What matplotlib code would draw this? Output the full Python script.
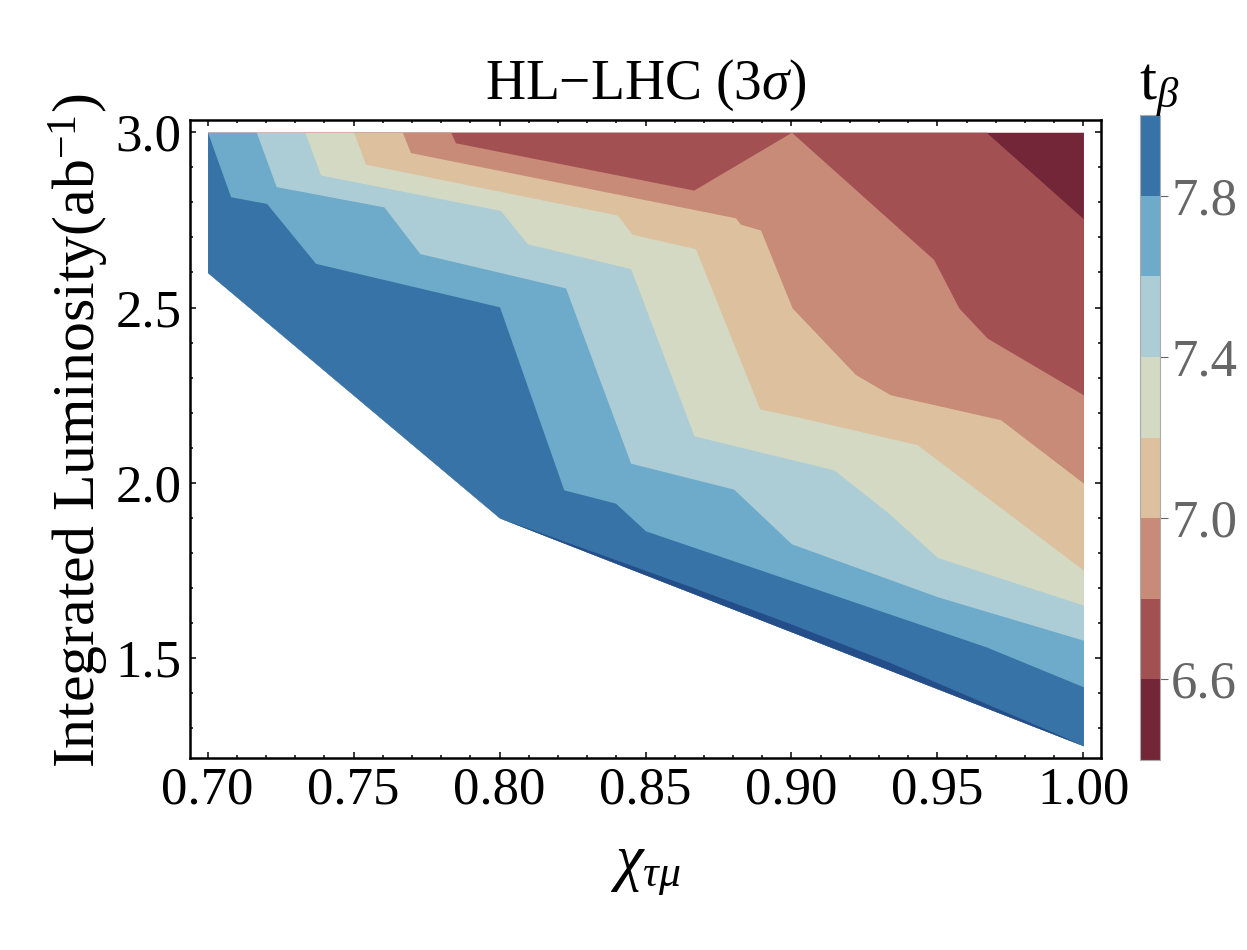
import numpy as np
import matplotlib
matplotlib.use('Agg')
import matplotlib.pyplot as plt
from matplotlib.colors import ListedColormap, BoundaryNorm
import matplotlib.colorbar as mcolorbar
from matplotlib.ticker import MultipleLocator, FormatStrFormatter

plt.rcParams['font.family'] = ['Liberation Serif', 'DejaVu Serif']
plt.rcParams['mathtext.fontset'] = 'custom'
plt.rcParams['mathtext.rm'] = 'Liberation Serif'
plt.rcParams['mathtext.it'] = 'Liberation Serif:italic'
plt.rcParams['mathtext.bf'] = 'Liberation Serif:bold'

# ---------------- data ----------------
# contour levels of t_beta and the colours of the bands between them
levels = [6.4, 6.6, 6.8, 7.0, 7.2, 7.4, 7.6, 7.8, 8.0]
band_colors = ['#722637', '#a35053', '#c78b77', '#ddc19e',
               '#d4d9c3', '#accdd5', '#6eabca', '#3773a7']
above_top_color = '#234e89'   # t_beta > 8.0
cbar_ticks = [6.6, 7.0, 7.4, 7.8]

# lower edge of the region that has data (chi, luminosity)
edge_chi = [0.70, 0.80, 1.00]
edge_lum = [2.60, 1.90, 1.25]
lum_max = 3.0

# luminosity (ab^-1) at which t_beta reaches each level, vs chi_tau_mu
c66_chi = [0.70, 0.9667, 1.00]
c66_lum = [3.00, 3.00, 2.753]

c68_chi = [0.70, 0.7833, 0.7849, 0.8665, 0.90, 0.9487, 0.9573, 0.967, 1.00]
c68_lum = [3.00, 3.00, 2.970, 2.835, 3.00, 2.637, 2.499, 2.413, 2.251]

c70_chi = [0.70, 0.7667, 0.7695, 0.8808, 0.8825, 0.8894, 0.9002, 0.9219, 0.9339, 0.9716, 1.00]
c70_lum = [3.00, 3.00, 2.942, 2.756, 2.738, 2.721, 2.499, 2.309, 2.251, 2.180, 1.999]

c72_chi = [0.70, 0.75, 0.7541, 0.8403, 0.8454, 0.8671, 0.8891, 0.9031, 0.943, 1.00]
c72_lum = [3.00, 3.00, 2.909, 2.764, 2.709, 2.668, 2.211, 2.186, 2.109, 1.751]

c74_chi = [0.70, 0.7333, 0.7387, 0.8003, 0.8095, 0.8449, 0.8666, 0.9145, 0.9333, 0.95, 1.00]
c74_lum = [3.00, 3.00, 2.878, 2.777, 2.682, 2.611, 2.134, 2.037, 1.913, 1.787, 1.651]

c76_chi = [0.70, 0.7167, 0.7235, 0.7604, 0.7727, 0.8226, 0.8449, 0.8802, 0.90, 0.95, 1.00]
c76_lum = [3.00, 3.00, 2.845, 2.787, 2.654, 2.556, 2.056, 1.982, 1.826, 1.675, 1.551]

c78_chi = [0.70, 0.7079, 0.7202, 0.737, 0.80, 0.822, 0.8397, 0.85, 0.9667, 1.00]
c78_lum = [3.00, 2.816, 2.797, 2.626, 2.502, 1.980, 1.942, 1.863, 1.532, 1.418]

c80_chi = [0.70, 0.80, 0.82, 0.85, 0.8667, 0.90, 0.9333, 0.9667, 0.99, 1.00]
c80_lum = [2.60, 1.90, 1.840, 1.750, 1.700, 1.597, 1.489, 1.370, 1.287, 1.25]

curves = [(c66_chi, c66_lum), (c68_chi, c68_lum), (c70_chi, c70_lum),
          (c72_chi, c72_lum), (c74_chi, c74_lum), (c76_chi, c76_lum),
          (c78_chi, c78_lum), (c80_chi, c80_lum)]

xticks = [0.70, 0.75, 0.80, 0.85, 0.90, 0.95, 1.00]
yticks = [1.5, 2.0, 2.5, 3.0]

# ---------------- figure ----------------
fig = plt.figure(figsize=(12.47, 9.5), dpi=100)
ax = fig.add_axes([0.1524, 0.2021, 0.7305, 0.6716])

all_chi = np.concatenate([np.linspace(edge_chi[0], edge_chi[-1], 3001)] +
                         [np.asarray(c) for c, _ in curves] + [np.asarray(edge_chi)])
xg = np.unique(np.round(all_chi, 6))
bottom = np.interp(xg, edge_chi, edge_lum)

# paint bands from the top (lowest t_beta) downward, each one covering the rest
fill_tops = [np.full_like(xg, lum_max)]
for cx, cy in curves:
    fill_tops.append(np.clip(np.interp(xg, cx, cy), bottom, lum_max))
fill_colors = band_colors + [above_top_color]
for top, col in zip(fill_tops, fill_colors):
    ax.fill_between(xg, bottom, top, color=col, linewidth=0)

ax.set_xlim(0.694, 1.006)
ax.set_ylim(1.215, 3.035)
ax.set_xticks(xticks)
ax.set_yticks(yticks)
ax.xaxis.set_major_formatter(FormatStrFormatter('%.2f'))
ax.yaxis.set_major_formatter(FormatStrFormatter('%.1f'))
ax.xaxis.set_minor_locator(MultipleLocator(0.01))
ax.yaxis.set_minor_locator(MultipleLocator(0.1))
ax.tick_params(which='both', direction='in', top=True, right=True, width=1.1)
ax.tick_params(which='major', length=4.0, labelsize=38, pad=6)
ax.tick_params(which='minor', length=2.2)
for sp in ax.spines.values():
    sp.set_linewidth(1.8)

ax.set_title('HL\u2212LHC (3$\\sigma$)', fontsize=40, pad=15)
ax.set_xlabel(r'$\chi_{\tau\mu}$', fontsize=45, labelpad=18)
ax.set_ylabel('Integrated Luminosity(ab$^{-1}$)', fontsize=43, labelpad=6)
ax.yaxis.set_label_coords(-0.087, 0.513)

# colour bar
cax = fig.add_axes([0.9142, 0.2, 0.016, 0.6789])
cmap = ListedColormap(band_colors)
norm = BoundaryNorm(levels, cmap.N)
cb = mcolorbar.ColorbarBase(cax, cmap=cmap, norm=norm, boundaries=levels,
                            ticks=cbar_ticks, orientation='vertical')
cb.outline.set_edgecolor('#aaaaaa')
cb.outline.set_linewidth(0.8)
cax.tick_params(colors='#666666', labelcolor='#666666', labelsize=38,
                length=6, width=0.8, direction='out', pad=2)
cax.yaxis.set_major_formatter(FormatStrFormatter('%.1f'))
cax.minorticks_off()
fig.text(0.913, 0.895, r'$\mathrm{t}_{\beta}$', fontsize=44, ha='left', va='baseline')

fig.savefig('out.png', dpi=100)
